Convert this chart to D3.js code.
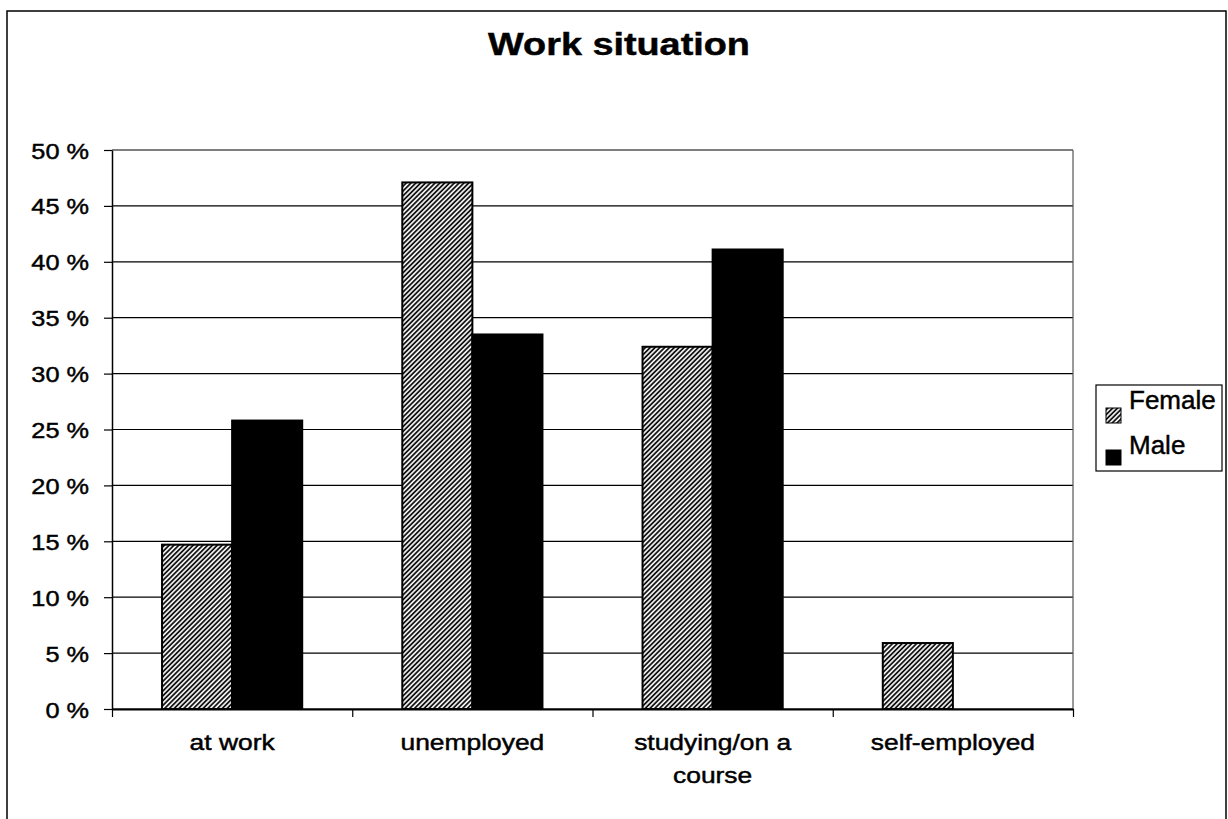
<!DOCTYPE html>
<html><head><meta charset="utf-8">
<script src="https://cdn.jsdelivr.net/npm/d3@7"></script>
<style>
body{margin:0;background:#fff}
svg{display:block}
text{font-family:"Liberation Sans",Arial,sans-serif;fill:#000;stroke:#000;stroke-width:0.45px}
</style>
</head><body>
<svg id="chart" width="1228" height="819"></svg>
<script>
const chartTitle = "Work situation";
const categories = ["at work", "unemployed", "studying/on a course", "self-employed"];
const categoryLines = [["at work"], ["unemployed"], ["studying/on a", "course"], ["self-employed"]];
const series = ["Female", "Male"];
const femaleValues = [14.7, 47.1, 32.4, 5.9];
const maleValues = [25.8, 33.5, 41.1, 0];
const yTicks = [0, 5, 10, 15, 20, 25, 30, 35, 40, 45, 50];

const svg = d3.select("#chart");
const plot = {left: 112, right: 1073, top: 150, bottom: 709};

// outer frame
svg.append("rect").attr("x", 7).attr("y", 11).attr("width", 1219).attr("height", 860)
  .attr("fill", "#fff").attr("stroke", "#000").attr("stroke-width", 1.5);

// hatch pattern
const defs = svg.append("defs");
const pat = defs.append("pattern").attr("id", "hatch").attr("patternUnits", "userSpaceOnUse")
  .attr("width", 3.4).attr("height", 3.4).attr("patternTransform", "rotate(45)");
pat.append("rect").attr("width", 3.4).attr("height", 3.4).attr("fill", "#fff");
pat.append("line").attr("x1", 1).attr("y1", 0).attr("x2", 1).attr("y2", 3.4)
  .attr("stroke", "#000").attr("stroke-width", 1.7);

const x0 = d3.scaleBand().domain(categories).range([plot.left, plot.right]).padding(0);
const x1 = d3.scaleBand().domain(series).range([0, x0.bandwidth()]).paddingInner(0).paddingOuter(0.714);
const y = d3.scaleLinear().domain([0, 50]).range([plot.bottom, plot.top]);
const xEdges = d3.scaleLinear().domain([0, categories.length]).range([plot.left, plot.right]);

function stretchedText(parent, x, yy, str, size, sx, anchor, weight) {
  return parent.append("text")
    .attr("transform", `translate(${x},${yy}) scale(${sx},1)`)
    .attr("text-anchor", anchor || "start")
    .attr("font-size", size)
    .attr("font-weight", weight || "normal")
    .text(str);
}

// gridlines
svg.append("g").selectAll("line").data(yTicks).join("line")
  .attr("x1", plot.left).attr("x2", plot.right)
  .attr("y1", d => y(d)).attr("y2", d => y(d))
  .attr("stroke", "#000").attr("stroke-width", 1.2);

// plot area right border
svg.append("line").attr("x1", plot.right).attr("x2", plot.right)
  .attr("y1", plot.top).attr("y2", plot.bottom).attr("stroke", "#555").attr("stroke-width", 1.2);

// y axis
const yAxis = svg.append("g").attr("transform", `translate(${plot.left},0)`)
  .call(d3.axisLeft(y).tickValues(yTicks).tickSize(8).tickSizeOuter(0).tickFormat(d => d + " %"));
yAxis.select(".domain").attr("stroke", "#000").attr("stroke-width", 1.5);
yAxis.selectAll(".tick line").attr("stroke", "#000").attr("stroke-width", 1.2);
yAxis.selectAll(".tick text")
  .attr("x", null).attr("dy", null)
  .attr("transform", "translate(-23,8) scale(1.15,1)")
  .attr("font-size", 22).attr("font-family", '"Liberation Sans",Arial,sans-serif').attr("fill", "#000");

// bars
const groups = svg.append("g").selectAll("g").data(categories).join("g")
  .attr("transform", d => `translate(${x0(d)},0)`);
groups.selectAll("rect")
  .data((d, i) => [{s: "Female", v: femaleValues[i]}, {s: "Male", v: maleValues[i]}])
  .join("rect")
  .attr("x", d => x1(d.s)).attr("width", x1.bandwidth())
  .attr("y", d => y(d.v)).attr("height", d => y(0) - y(d.v))
  .attr("fill", d => d.s === "Female" ? "url(#hatch)" : "#000")
  .attr("stroke", "#000").attr("stroke-width", 2);

// x axis
const xAxis = svg.append("g").attr("transform", `translate(0,${plot.bottom})`)
  .call(d3.axisBottom(xEdges).tickValues(d3.range(categories.length + 1)).tickSize(8).tickSizeOuter(0).tickFormat(""));
xAxis.select(".domain").attr("stroke", "#000").attr("stroke-width", 2);
xAxis.selectAll(".tick line").attr("stroke", "#000").attr("stroke-width", 1.2);

// category labels
categories.forEach((c, i) => {
  const cx = x0(c) + x0.bandwidth() / 2;
  categoryLines[i].forEach((ln, j) => {
    stretchedText(svg, cx, 750 + j * 33, ln, 22, 1.2, "middle");
  });
});

// title
stretchedText(svg, 619, 55, chartTitle, 31, 1.22, "middle", "bold");

// legend
const lg = svg.append("g");
lg.append("rect").attr("x", 1096).attr("y", 385).attr("width", 126).attr("height", 86)
  .attr("fill", "#fff").attr("stroke", "#000").attr("stroke-width", 1.2);
const legendY = [409, 454];
series.forEach((s, i) => {
  lg.append("rect").attr("x", 1106).attr("y", legendY[i] - 1 - (i === 1 ? 3 : 0)).attr("width", 15).attr("height", 15)
    .attr("fill", s === "Female" ? "url(#hatch)" : "#000").attr("stroke", "#000").attr("stroke-width", 1);
  stretchedText(lg, 1129, legendY[i], s, 26, 1.0, "start");
});
</script>
</body></html>
